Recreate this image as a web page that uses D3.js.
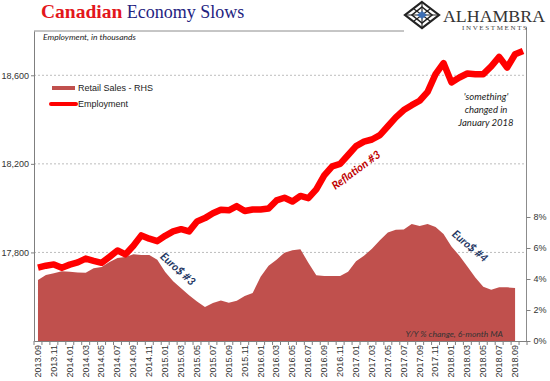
<!DOCTYPE html>
<html><head><meta charset="utf-8">
<script src="https://cdn.jsdelivr.net/npm/d3@7"></script>
<style>html,body{margin:0;padding:0;background:#fff;}svg{display:block;}</style>
</head><body>
<svg id="c" width="550" height="381"></svg>
<script>
const months = ["2013.09","2013.10","2013.11","2013.12",
"2014.01","2014.02","2014.03","2014.04","2014.05","2014.06","2014.07","2014.08","2014.09","2014.10","2014.11","2014.12",
"2015.01","2015.02","2015.03","2015.04","2015.05","2015.06","2015.07","2015.08","2015.09","2015.10","2015.11","2015.12",
"2016.01","2016.02","2016.03","2016.04","2016.05","2016.06","2016.07","2016.08","2016.09","2016.10","2016.11","2016.12",
"2017.01","2017.02","2017.03","2017.04","2017.05","2017.06","2017.07","2017.08","2017.09","2017.10","2017.11","2017.12",
"2018.01","2018.02","2018.03","2018.04","2018.05","2018.06","2018.07","2018.08","2018.09","2018.10"];

const employment = [17731,17740,17746,17731,17745,17755,17772,17762,17753,17780,17809,17791,17830,17877,17862,17851,
17875,17895,17905,17895,17940,17955,17977,17993,17990,18009,17987,17994,17994,17998,18035,18047,18030,18055,18045,18085,
18148,18189,18200,18240,18280,18300,18310,18330,18370,18410,18443,18465,18485,18525,18605,18655,18568,18590,18608,18605,
18605,18640,18683,18635,18695,18710];

const retailSales = [3.94,4.26,4.37,4.5,4.47,4.42,4.41,4.69,4.78,5.1,5.35,5.42,5.6,5.55,5.55,5.25,
4.45,3.85,3.4,2.95,2.55,2.2,2.45,2.62,2.47,2.6,2.9,3.1,4.15,4.85,5.25,5.7,5.85,5.92,5.05,4.25,
4.19,4.19,4.19,4.47,5.15,5.5,5.95,6.5,7.0,7.18,7.2,7.55,7.42,7.55,7.35,6.9,6.1,5.5,4.8,4.1,3.5,3.3,3.46,3.46,3.42];

const leftTicks = [17800,18200,18600];
const rightTicks = [0,2,4,6,8];

const svg = d3.select("#c");
const L = 34, R = 527, T = 31, B = 341;

const x = d3.scaleBand().domain(months).range([L, R]).padding(0);
const cx = m => x(m) + x.bandwidth()/2;
const yL = d3.scaleLinear().domain([17400, 18800]).range([B, T]);
const yR = d3.scaleLinear().domain([0, 20]).range([B, T]);

// gridlines
svg.append("g").selectAll("line").data(leftTicks).join("line")
  .attr("x1", L).attr("x2", R).attr("y1", d=>yL(d)).attr("y2", d=>yL(d))
  .attr("stroke", "#bdbdbd").attr("stroke-width", 1).attr("stroke-dasharray", "2,2");

// retail area
const area = d3.area().x((d,i)=>cx(months[i])).y0(B).y1(d=>yR(d));
svg.append("path").datum(retailSales).attr("d", area).attr("fill", "#C0504D");

// employment line
const line = d3.line().x((d,i)=>cx(months[i])).y(d=>yL(d));
svg.append("path").datum(employment).attr("d", line)
  .attr("fill", "none").attr("stroke", "#FF0000").attr("stroke-width", 6.5)
  .attr("stroke-linejoin", "round").attr("stroke-linecap", "butt");

// frame lines
svg.append("line").attr("x1", L).attr("x2", 404).attr("y1", T).attr("y2", T).attr("stroke", "#8c8c8c");
svg.append("line").attr("x1", R-0.5).attr("x2", R-0.5).attr("y1", 27).attr("y2", B).attr("stroke", "#8c8c8c");

// left axis
const gL = svg.append("g").attr("transform", `translate(${L},0)`)
  .call(d3.axisLeft(yL).tickValues(leftTicks).tickFormat(d3.format(",")).tickSize(3).tickSizeOuter(0));
gL.select(".domain").attr("stroke", "#7f7f7f");
gL.selectAll(".tick line").attr("stroke", "#7f7f7f");
gL.selectAll("text").attr("font-family", "Liberation Sans, Arial, sans-serif").attr("font-size", 9).attr("fill", "#333").attr("x", -5);

// right axis
const gR = svg.append("g").attr("transform", `translate(${R-0.5},0)`)
  .call(d3.axisRight(yR).tickValues(rightTicks).tickFormat(d=>d+"%").tickSize(4).tickSizeOuter(0));
gR.select(".domain").remove();
gR.selectAll(".tick line").attr("stroke", "#7f7f7f");
gR.selectAll("text").attr("font-family", "Liberation Sans, Arial, sans-serif").attr("font-size", 9).attr("fill", "#333").attr("x", 7);

// bottom axis
const gB = svg.append("g").attr("transform", `translate(0,${B})`)
  .call(d3.axisBottom(x).tickValues(months.filter((d,i)=>i%2===0)).tickSize(0).tickSizeOuter(0));
gB.select(".domain").attr("stroke", "#7f7f7f");
gB.selectAll(".tick text")
  .attr("font-family", "Liberation Sans, Arial, sans-serif").attr("font-size", 9).attr("fill", "#333")
  .attr("transform", "rotate(-90)").attr("text-anchor", "end").attr("x", -4).attr("y", 0).attr("dy", "0.32em");
svg.append("g").selectAll("line").data(months.map(m=>x(m)).concat([R])).join("line")
  .attr("x1", d=>d).attr("x2", d=>d).attr("y1", B).attr("y2", B+4).attr("stroke", "#7f7f7f");

// title
const title = svg.append("text").attr("x", 41).attr("y", 18).attr("font-family", "Liberation Serif, Georgia, serif");
title.append("tspan").text("Canadian").attr("font-weight", "bold").attr("fill", "#E3161B").attr("font-size", 19.5);
title.append("tspan").text(" Economy Slows").attr("fill", "#23237f").attr("font-size", 18);

svg.append("text").attr("x", 43).attr("y", 40).text("Employment, in thousands")
  .attr("font-family", "Lato, sans-serif").attr("font-style", "italic").attr("font-size", 8.5).attr("fill", "#222");

// legend
svg.append("line").attr("x1", 52).attr("x2", 75).attr("y1", 88).attr("y2", 88).attr("stroke", "#C0504D").attr("stroke-width", 4);
svg.append("text").attr("x", 78).attr("y", 91).text("Retail Sales - RHS")
  .attr("font-family", "Liberation Sans, Arial, sans-serif").attr("font-size", 9).attr("fill", "#222");
svg.append("line").attr("x1", 51).attr("x2", 76).attr("y1", 104).attr("y2", 104).attr("stroke", "#FF0000").attr("stroke-width", 4).attr("stroke-linecap","round");
svg.append("text").attr("x", 78).attr("y", 107).text("Employment")
  .attr("font-family", "Liberation Sans, Arial, sans-serif").attr("font-size", 9).attr("fill", "#222");

// annotations
const ann = svg.append("text").attr("font-family", "Lato, sans-serif").attr("font-style", "italic").attr("font-size", 9.5).attr("fill", "#222").attr("text-anchor", "middle");
[["'something'",100],["changed in",113],["January 2018",126]].forEach(([t,yy])=>ann.append("tspan").attr("x", 486).attr("y", yy).text(t));

svg.append("text").attr("transform", "translate(178,269) rotate(42)").attr("text-anchor", "middle").attr("dy", "0.35em")
  .text("Euro$ #3").attr("font-family", "Lato, sans-serif").attr("font-weight", "bold").attr("font-style", "italic").attr("font-size", 11).attr("fill", "#1F3864");
svg.append("text").attr("transform", "translate(470,246) rotate(40)").attr("text-anchor", "middle").attr("dy", "0.35em")
  .text("Euro$ #4").attr("font-family", "Lato, sans-serif").attr("font-weight", "bold").attr("font-style", "italic").attr("font-size", 11).attr("fill", "#1F3864");
svg.append("text").attr("transform", "translate(356,170) rotate(-36)").attr("text-anchor", "middle").attr("dy", "0.35em")
  .text("Reflation #3").attr("font-family", "Lato, sans-serif").attr("font-weight", "bold").attr("font-style", "italic").attr("font-size", 11).attr("fill", "#C00000");

svg.append("text").attr("x", 503).attr("y", 337).attr("text-anchor", "end").text("Y/Y % change, 6-month MA")
  .attr("font-family", "Lato, sans-serif").attr("font-style", "italic").attr("font-size", 8.5).attr("fill", "#333");

// logo
const lg = svg.append("g").attr("transform", "translate(422,15)");
lg.append("path").attr("d", "M0,-13 L17,0 L0,13 L-17,0 Z").attr("fill", "none").attr("stroke", "#222").attr("stroke-width", 2.2);
lg.append("path").attr("d", "M0,-8 L10,0 L0,8 L-10,0 Z").attr("fill", "none").attr("stroke", "#222").attr("stroke-width", 1.6);
lg.append("path").attr("d", "M-8,-6 L8,6 M8,-6 L-8,6 M0,-13 L0,13 M-17,0 L17,0").attr("stroke", "#222").attr("stroke-width", 1.1);
lg.append("path").attr("d", "M0,-4 L5,0 L0,4 L-5,0 Z").attr("fill", "#3C6EB4");
svg.append("text").attr("x", 443).attr("y", 21.5).text("ALHAMBRA")
  .attr("font-family", "Liberation Serif, serif").attr("font-size", 16).attr("fill", "#333").attr("textLength", 102).attr("lengthAdjust", "spacingAndGlyphs");
svg.append("text").attr("x", 462).attr("y", 29.5).text("INVESTMENTS")
  .attr("font-family", "Liberation Serif, serif").attr("font-size", 7).attr("fill", "#444").attr("textLength", 65).attr("lengthAdjust", "spacing");
</script>
</body></html>
